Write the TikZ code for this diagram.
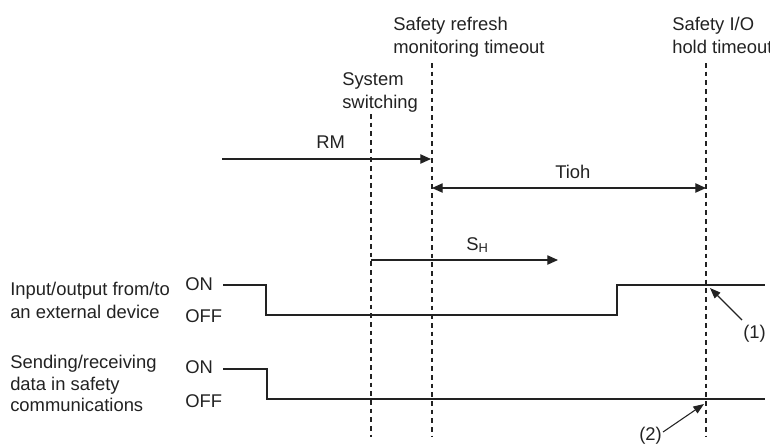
\documentclass[tikz,border=0pt]{standalone}
\usepackage{fontspec}
\setmainfont{Liberation Sans}
\usetikzlibrary{arrows.meta}
\definecolor{ink}{HTML}{222222}
\tikzset{
  lbl/.style={anchor=base west, inner sep=0pt, text=ink, font=\fontsize{13.8}{16}\selectfont},
  guide/.style={draw=ink, line width=0.8pt, dash pattern=on 3.5pt off 3pt},
  sig/.style={draw=ink, line width=0.9pt},
  tarrow/.style={draw=ink, line width=0.9pt, -{Triangle[length=8pt,width=7pt]}},
  darrow/.style={draw=ink, line width=0.9pt, {Triangle[length=8pt,width=7pt]}-{Triangle[length=8pt,width=7pt]}},
  pointer/.style={draw=ink, line width=0.8pt, -{Triangle[length=8pt,width=6pt]}},
}
\begin{document}
\begin{tikzpicture}[x=0.75pt,y=-0.75pt]
\useasboundingbox (0,0) rectangle (770,444);
% headings
\node[lbl] (srm1) at (393,30) {Safety refresh};
\node[lbl] (srm2) at (393,53) {monitoring timeout};
\node[lbl] (sio1) at (672,30) {Safety I/O};
\node[lbl] (sio2) at (672,53) {hold timeout};
\node[lbl] (sys1) at (342,85) {System};
\node[lbl] (sys2) at (342,108) {switching};
% guide lines
\coordinate (g1t) at (371,114); \coordinate (g1b) at (371,437);
\coordinate (g2t) at (432,63);  \coordinate (g2b) at (432,437);
\coordinate (g3t) at (706,63);  \coordinate (g3b) at (706,437);
\draw[guide] (g1t) -- (g1b);
\draw[guide] (g2t) -- (g2b);
\draw[guide] (g3t) -- (g3b);
% time arrows
\node[lbl] (rm) at (316,148) {RM};
\coordinate (rma) at (222,159); \coordinate (rmb) at (431,159);
\draw[tarrow] (rma) -- (rmb);
\node[lbl] (tioh) at (555,178) {Tioh};
\coordinate (ta) at (432,188); \coordinate (tb) at (706,188);
\draw[darrow] (ta) -- (tb);
\node[lbl] (sh) at (466,250) {S\textsubscript{H}};
\coordinate (sha) at (371,260); \coordinate (shb) at (558,260);
\draw[tarrow] (sha) -- (shb);
% signal labels
\node[lbl] (io1) at (10,295) {Input/output from/to};
\node[lbl] (io2) at (10,318) {an external device};
\node[lbl] (on1) at (185,290) {ON};
\node[lbl] (off1) at (185,322) {OFF};
\node[lbl] (sr1) at (10,368) {Sending/receiving};
\node[lbl] (sr2) at (10,390) {data in safety};
\node[lbl] (sr3) at (10,411) {communications};
\node[lbl] (on2) at (185,373) {ON};
\node[lbl] (off2) at (185,407) {OFF};
% waveforms
\draw[sig] (223,285) -- (266,285) -- (266,315) -- (617,315) -- (617,285) -- (765,285);
\draw[sig] (223,369) -- (267,369) -- (267,399) -- (765,399);
% pointers
\node[lbl] (p1) at (743,338) {(1)};
\coordinate (p1t) at (742,320); \coordinate (p1h) at (710,288);
\draw[pointer] (p1t) -- (p1h);
\node[lbl] (p2) at (639,440) {(2)};
\coordinate (p2t) at (663,432); \coordinate (p2h) at (704,404);
\draw[pointer] (p2t) -- (p2h);
\end{tikzpicture}
\end{document}
